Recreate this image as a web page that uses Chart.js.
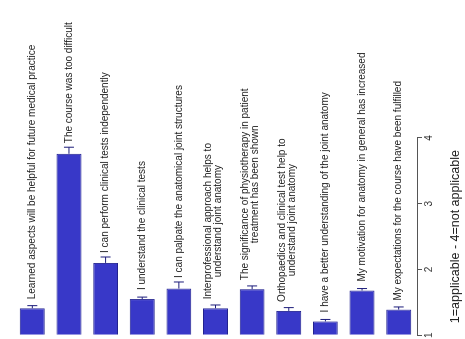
<!DOCTYPE html>
<html>
<head>
<meta charset="utf-8">
<script src="https://cdn.jsdelivr.net/npm/chart.js@4/dist/chart.umd.min.js"></script>
<style>
  html, body { margin: 0; padding: 0; background: #ffffff; overflow: hidden; }
  #wrap {
    position: absolute; left: 0; top: 0;
    width: 339px; height: 465px;
    transform-origin: 0 0;
    transform: translate(0px, 339px) rotate(-90deg);
  }
</style>
</head>
<body>
<div id="wrap"><canvas id="c" width="339" height="465"></canvas></div>
<script>
const categories = [
  "Learned aspects will be helpful for future medical practice",
  "The course was too difficult",
  "I can perform clinical tests independently",
  "I understand the clinical tests",
  "I can palpate the anatomical joint structures",
  ["Interprofessional approach helps to", "understand joint anatomy"],
  ["The significance of physiotherapy in patient", "treatment has been shown"],
  ["Orthopaedics and clinical test help to", "understand joint anatomy"],
  "I have a better understanding of the joint anatomy",
  "My motivation for anatomy in general has increased",
  "My expectations for the course have been fulfilled"
];
const meanValues = [1.41, 3.76, 2.10, 1.55, 1.71, 1.41, 1.70, 1.37, 1.21, 1.68, 1.39];
const errorValues = [0.04, 0.10, 0.09, 0.03, 0.10, 0.05, 0.05, 0.05, 0.03, 0.03, 0.04];
const tickValues = [1, 2, 3, 4];
const axisTitle = "1=applicable - 4=not applicable";

const FONT = "'Liberation Sans', Arial, sans-serif";

const labelPlugin = {
  id: 'errorAndLabels',
  afterDatasetsDraw(chart) {
    const ctx = chart.ctx;
    const xs = chart.scales.x;
    const meta = chart.getDatasetMeta(0);
    ctx.save();
    meta.data.forEach((bar, i) => {
      const m = meanValues[i], e = errorValues[i];
      const x0 = xs.getPixelForValue(m);
      const x1 = xs.getPixelForValue(m + e);
      const y = bar.y;
      // error bar (upper half)
      ctx.strokeStyle = '#1c1c7a';
      ctx.lineWidth = 1;
      ctx.beginPath();
      ctx.moveTo(x0, y); ctx.lineTo(x1, y);
      ctx.moveTo(x1, y - 5); ctx.lineTo(x1, y + 5);
      ctx.stroke();
      // label
      const lines = Array.isArray(categories[i]) ? categories[i] : [categories[i]];
      ctx.font = "10px " + FONT;
      ctx.fillStyle = '#1a1a1a';
      ctx.textBaseline = 'middle';
      const start = Math.max(x0 + 9, x1 + 4);
      const lh = 10;
      if (lines.length === 1) {
        ctx.textAlign = 'left';
        ctx.fillText(lines[0], start, y);
      } else {
        const w = Math.max(...lines.map(l => ctx.measureText(l).width));
        ctx.textAlign = 'center';
        lines.forEach((l, k) => {
          ctx.fillText(l, start + w / 2, y - 2 + (k - (lines.length - 1) / 2) * lh);
        });
      }
    });
    ctx.restore();
  }
};

new Chart(document.getElementById('c'), {
  type: 'bar',
  data: {
    labels: categories.map(c => Array.isArray(c) ? c.join(' ') : c),
    datasets: [{
      data: meanValues,
      base: 1,
      backgroundColor: '#3838c8',
      borderColor: '#22228f',
      borderWidth: 1,
      borderSkipped: 'start',
      barPercentage: 0.85,
      categoryPercentage: 0.8
    }]
  },
  options: {
    indexAxis: 'y',
    responsive: false,
    animation: false,
    events: [],
    layout: { autoPadding: false, padding: { left: 0, right: 138, top: 14, bottom: 0 } },
    plugins: { legend: { display: false }, tooltip: { enabled: false } },
    scales: {
      x: {
        type: 'linear',
        position: 'bottom',
        min: 1, max: 4,
        afterBuildTicks(scale) { scale.ticks = tickValues.map(v => ({ value: v })); },
        ticks: { color: '#333', font: { size: 10, family: FONT }, padding: 1 },
        grid: { drawOnChartArea: false, drawTicks: true, tickLength: 5, color: '#555' },
        border: { display: true, color: '#555', width: 1 },
        title: {
          display: true, text: axisTitle, color: '#222',
          font: { size: 12.5, family: FONT },
          padding: { top: 12, bottom: 2 }
        }
      },
      y: { display: false, offset: true }
    }
  },
  plugins: [labelPlugin]
});
</script>
</body>
</html>
